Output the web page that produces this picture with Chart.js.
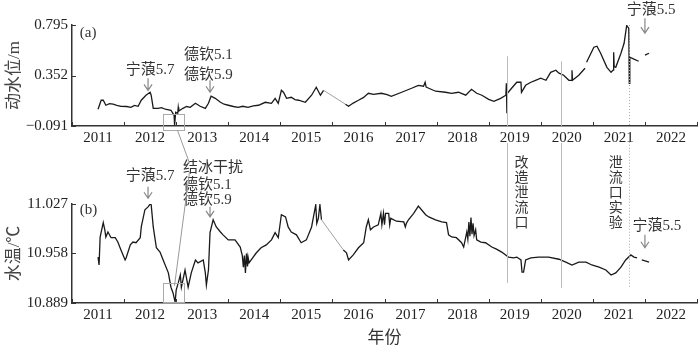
<!DOCTYPE html>
<html>
<head>
<meta charset="utf-8">
<script src="https://cdn.jsdelivr.net/npm/chart.js@4.4.0/dist/chart.umd.min.js"></script>
<style>
  body { margin: 0; background: #fff; }
  #wrap { position: relative; width: 700px; height: 349px; }
  canvas { position: absolute; left: 0; }
</style>
</head>
<body>
<div id="wrap">
  <canvas id="top" width="700" height="145" style="top:0"></canvas>
  <canvas id="bot" width="700" height="204" style="top:145px"></canvas>
  <canvas id="notes" width="700" height="349" style="top:0"></canvas>
</div>
<script>
// tick values
var yearTicks = [2011, 2012, 2013, 2014, 2015, 2016, 2017, 2018, 2019, 2020, 2021, 2022, 2023];
var levelTicks = [-0.091, 0.352, 0.795];
var tempTicks = [10.889, 10.958, 11.027];

// (a) 动水位/m (null = gap)
var levelYears = [2011.50, 2011.56, 2011.60, 2011.65, 2011.72, 2011.79, 2011.86, 2011.94, 2012.05, 2012.13,
  2012.20, 2012.27, 2012.33, 2012.42, 2012.50, 2012.52, 2012.56, 2012.65, 2012.72, 2012.79,
  2012.90, 2012.96, 2012.97, 2012.99, 2013.03, 2013.04, 2013.05, 2013.13, 2013.20, 2013.27,
  2013.37, 2013.46, 2013.56, 2013.62, 2013.67, 2013.75, 2013.85, 2013.92, 2014.00, 2014.10,
  2014.19, 2014.28, 2014.38, 2014.48, 2014.58, 2014.71, 2014.83, 2014.90, 2014.96, 2015.02,
  2015.06, 2015.12, 2015.21, 2015.28, 2015.35, 2015.48, 2015.60, 2015.69, 2015.77, 2015.83,
  2016.25, 2016.31, 2016.40, 2016.50, 2016.60, 2016.69, 2016.79, 2016.94, 2017.05, 2017.13,
  2017.33, 2017.52, 2017.65, 2017.75, 2017.78, 2017.80, 2017.85, 2017.98, 2018.17, 2018.29,
  2018.42, 2018.56, 2018.67, 2018.77, 2018.87, 2019.00, 2019.10, 2019.23, 2019.33, 2019.34,
  2019.35, 2019.36, 2019.44, 2019.54, 2019.62, 2019.63, 2019.71, 2019.81, 2019.90, 2020.00,
  2020.10, 2020.19, 2020.29, 2020.35, 2020.44, 2020.54, 2020.59, 2020.60, 2020.61, 2020.73,
  2020.85, 2020.86, 2020.88, 2021.02, 2021.08, 2021.15, 2021.27, 2021.35, 2021.39, 2021.40,
  2021.41, 2021.44, 2021.54, 2021.60, 2021.65, 2021.69, 2021.70, 2021.71, 2021.79, 2021.88,
  2021.94, 2022.00, 2022.08];
var levelVals = [0.056, 0.135, 0.135, 0.091, 0.105, 0.100, 0.090, 0.082, 0.080, 0.073,
  0.090, 0.082, 0.135, 0.179, 0.205, 0.179, 0.064, 0.064, 0.070, 0.056,
  0.047, 0.003, -0.085, 0.029, 0.020, 0.073, 0.040, 0.064, 0.080, 0.073,
  0.108, 0.082, 0.064, 0.108, 0.170, 0.152, 0.117, 0.100, 0.091, 0.080,
  0.073, 0.082, 0.073, 0.085, 0.091, 0.117, 0.108, 0.152, 0.108, 0.222,
  0.205, 0.152, 0.161, 0.140, 0.135, 0.117, 0.179, 0.249, 0.179, 0.222,
  0.100, 0.082, 0.110, 0.135, 0.160, 0.196, 0.187, 0.196, 0.185, 0.170,
  0.205, 0.240, 0.266, 0.258, 0.293, 0.250, 0.240, 0.214, 0.205, 0.196,
  0.205, 0.179, 0.231, 0.196, 0.179, 0.143, 0.126, 0.152, 0.179, 0.284,
  0.020, 0.196, 0.240, 0.293, 0.293, 0.205, 0.266, 0.293, 0.310, 0.328,
  0.310, 0.380, 0.398, 0.372, 0.354, 0.310, 0.310, 0.398, 0.310, 0.354,
  0.416, null, 0.468, 0.600, 0.609, 0.547, 0.424, 0.380, 0.400, 0.556,
  0.430, 0.424, 0.547, 0.635, 0.790, 0.767, 0.284, 0.512, 0.495, 0.477,
  null, 0.530, 0.547];

// (b) 水温/℃
var tempYears = [2011.50, 2011.52, 2011.54, 2011.60, 2011.63, 2011.65, 2011.69, 2011.75, 2011.83, 2011.88,
  2011.94, 2012.02, 2012.04, 2012.12, 2012.17, 2012.23, 2012.31, 2012.33, 2012.40, 2012.46,
  2012.50, 2012.52, 2012.56, 2012.62, 2012.69, 2012.75, 2012.85, 2012.90, 2012.94, 2012.98,
  2013.00, 2013.04, 2013.08, 2013.10, 2013.17, 2013.23, 2013.29, 2013.37, 2013.42, 2013.52,
  2013.56, 2013.58, 2013.62, 2013.65, 2013.71, 2013.77, 2013.85, 2013.90, 2014.00, 2014.13,
  2014.23, 2014.27, 2014.29, 2014.31, 2014.33, 2014.35, 2014.37, 2014.38, 2014.40, 2014.44,
  2014.54, 2014.63, 2014.73, 2014.83, 2014.90, 2014.96, 2015.02, 2015.10, 2015.15, 2015.21,
  2015.31, 2015.40, 2015.50, 2015.60, 2015.68, 2015.70, 2015.73, 2015.76, 2015.79, 2016.21,
  2016.27, 2016.31, 2016.40, 2016.50, 2016.60, 2016.65, 2016.69, 2016.73, 2016.79, 2016.88,
  2016.93, 2016.95, 2016.98, 2017.00, 2017.02, 2017.08, 2017.10, 2017.12, 2017.23, 2017.37,
  2017.40, 2017.42, 2017.46, 2017.56, 2017.65, 2017.71, 2017.79, 2017.85, 2017.98, 2018.10,
  2018.19, 2018.23, 2018.29, 2018.38, 2018.48, 2018.52, 2018.58, 2018.60, 2018.62, 2018.64,
  2018.66, 2018.68, 2018.70, 2018.72, 2018.75, 2018.77, 2018.85, 2018.94, 2019.06, 2019.15,
  2019.25, 2019.38, 2019.48, 2019.54, 2019.62, 2019.64, 2019.67, 2019.71, 2019.81, 2019.96,
  2020.15, 2020.35, 2020.48, 2020.60, 2020.73, 2020.87, 2020.98, 2021.12, 2021.25, 2021.35,
  2021.44, 2021.54, 2021.63, 2021.73, 2021.79, 2021.85, 2021.90, 2021.94, 2022.08];
var tempVals = [10.953, 10.942, 10.981, 11.001, 10.991, 10.981, 10.988, 10.980, 10.980, 10.974,
  10.963, 10.949, 10.952, 10.970, 10.974, 10.973, 10.980, 10.995, 11.019, 11.023,
  11.027, 11.026, 10.995, 10.966, 10.960, 10.949, 10.931, 10.911, 10.903, 10.890,
  10.907, 10.917, 10.928, 10.911, 10.935, 10.911, 10.931, 10.949, 10.945, 10.949,
  10.931, 10.914, 10.935, 10.987, 11.005, 10.995, 10.988, 10.984, 10.977, 10.977,
  10.967, 10.955, 10.939, 10.955, 10.931, 10.958, 10.940, 10.953, 10.945, 10.949,
  10.959, 10.966, 10.970, 10.977, 10.987, 10.980, 11.012, 11.009, 10.995, 10.988,
  10.984, 10.973, 10.977, 10.995, 11.026, 11.000, 11.007, 11.026, 11.005, 10.963,
  10.959, 10.949, 10.956, 10.966, 10.973, 10.995, 11.005, 10.991, 10.995, 10.998,
  11.014, 10.998, 11.014, 10.998, 11.014, 11.014, 10.998, 11.007, 11.003, 11.002,
  10.995, 11.000, 11.005, 11.014, 11.024, 11.019, 11.012, 11.009, 11.005, 11.002,
  11.001, 10.984, 10.981, 10.980, 10.973, 10.967, 10.988, 10.978, 11.002, 10.982,
  11.008, 10.985, 11.000, 10.983, 10.991, 10.977, 10.974, 10.973, 10.967, 10.964,
  10.960, 10.953, 10.952, 10.953, 10.949, 10.932, 10.932, 10.949, 10.952, 10.953,
  10.953, 10.950, 10.946, 10.942, 10.946, 10.946, 10.942, 10.939, 10.935, 10.928,
  10.931, 10.939, 10.949, 10.956, 10.953, 10.952, null, 10.949, 10.946];

var serif = "'Liberation Serif', 'Noto Sans CJK SC', serif";

function points(xs, ys) {
  return xs.map(function (x, i) { return { x: x, y: ys[i] }; });
}

function fmt(v) {
  return v.toFixed(3).replace("-", "\u2212");
}

// ticks pointing into the plot
var inwardTicks = {
  id: "inwardTicks",
  afterDraw: function (chart) {
    var a = chart.chartArea, c = chart.ctx;
    var sx = chart.scales.x, sy = chart.scales.y;
    c.save();
    c.strokeStyle = "#333";
    c.lineWidth = 1;
    sx.ticks.forEach(function (t) {
      var px = Math.round(sx.getPixelForValue(t.value)) + 0.5;
      c.beginPath(); c.moveTo(px, a.bottom); c.lineTo(px, a.bottom - 4); c.stroke();
    });
    sy.ticks.forEach(function (t) {
      var py = Math.round(sy.getPixelForValue(t.value)) + 0.5;
      c.beginPath(); c.moveTo(a.left, py); c.lineTo(a.left + 4, py); c.stroke();
    });
    c.restore();
  }
};

function makeChart(id, xs, ys, yTicks, yTitle, xTitle, padTop, axisH) {
  var longGap = function (ctx) { return ctx.p1.parsed.x - ctx.p0.parsed.x > 0.2; };
  return new Chart(document.getElementById(id), {
    type: "line",
    data: {
      datasets: [{
        data: points(xs, ys),
        borderColor: "#1a1a1a",
        borderWidth: 1.3,
        pointRadius: 0,
        tension: 0,
        spanGaps: false,
        segment: {
          borderColor: function (ctx) { return longGap(ctx) ? "#888" : undefined; },
          borderWidth: function (ctx) { return longGap(ctx) ? 0.8 : undefined; }
        }
      }]
    },
    options: {
      responsive: false,
      animation: false,
      layout: { padding: { top: padTop, right: 2, left: 0, bottom: 0 } },
      plugins: { legend: { display: false }, tooltip: { enabled: false } },
      scales: {
        x: {
          type: "linear",
          min: 2011,
          max: 2023,
          afterBuildTicks: function (s) { s.ticks = yearTicks.map(function (v) { return { value: v }; }); },
          afterFit: function (s) { s.height = axisH; },
          grid: { display: false, drawTicks: false },
          border: { display: true, color: "#333", width: 1.5 },
          ticks: {
            callback: function (v) { return v < 2023 ? String(v) : ""; },
            labelOffset: 26,
            padding: 3,
            maxRotation: 0,
            autoSkip: false,
            color: "#222",
            font: { family: serif, size: 15 }
          },
          title: {
            display: !!xTitle,
            text: xTitle || "",
            color: "#333",
            font: { family: serif, size: 17 },
            padding: { top: 2, bottom: 0 }
          }
        },
        y: {
          min: yTicks[0],
          max: yTicks[yTicks.length - 1],
          afterBuildTicks: function (s) { s.ticks = yTicks.map(function (v) { return { value: v }; }); },
          afterFit: function (s) { s.width = 72; },
          grid: { display: false, drawTicks: false },
          border: { display: true, color: "#333", width: 1.5 },
          ticks: {
            callback: function (v) { return fmt(v); },
            padding: 4,
            color: "#222",
            font: { family: serif, size: 15 }
          },
          title: {
            display: true,
            text: yTitle,
            color: "#444",
            font: { family: serif, size: 17 },
            padding: { top: 4, bottom: 0 }
          }
        }
      }
    },
    plugins: [inwardTicks]
  });
}

var topChart = makeChart("top", levelYears, levelVals, levelTicks, "动水位/m", null, 25, 19);
var botChart = makeChart("bot", tempYears, tempVals, tempTicks, "水温/℃", "年份", 59, 46);

// annotations, anchored in data units of either panel
var nc = document.getElementById("notes").getContext("2d");

function P(chart, x, y) {
  return [chart.scales.x.getPixelForValue(x), chart.scales.y.getPixelForValue(y) + chart.canvas.offsetTop];
}

function text(chart, x, y, s, align) {
  var p = P(chart, x, y);
  nc.fillStyle = "#333";
  nc.font = "15px " + serif;
  nc.textAlign = align || "center";
  nc.textBaseline = "middle";
  nc.fillText(s, p[0], p[1]);
}

function vtext(chart, x, y, s) {
  var p = P(chart, x, y);
  for (var i = 0; i < s.length; i++) {
    nc.fillStyle = "#333";
    nc.font = "14px " + serif;
    nc.textAlign = "center";
    nc.textBaseline = "middle";
    nc.fillText(s[i], p[0], p[1] + i * 15);
  }
}

function arrow(chart, x, y1, y2) {
  var a = P(chart, x, y1), b = P(chart, x, y2);
  nc.strokeStyle = "#888";
  nc.lineWidth = 1.2;
  nc.beginPath();
  nc.moveTo(a[0], a[1]); nc.lineTo(b[0], b[1]);
  nc.moveTo(b[0] - 4, b[1] - 6); nc.lineTo(b[0], b[1]); nc.lineTo(b[0] + 4, b[1] - 6);
  nc.stroke();
}

function line(c1, x1, y1, c2, x2, y2, color, dash) {
  var a = P(c1, x1, y1), b = P(c2, x2, y2);
  nc.strokeStyle = color;
  nc.lineWidth = 1;
  nc.setLineDash(dash || []);
  nc.beginPath();
  nc.moveTo(Math.round(a[0]) + 0.5, a[1]); nc.lineTo(Math.round(b[0]) + 0.5, b[1]);
  nc.stroke();
  nc.setLineDash([]);
}

function box(chart, x1, x2, y1, y2) {
  var a = P(chart, x1, y1), b = P(chart, x2, y2);
  nc.strokeStyle = "#aaa";
  nc.lineWidth = 1;
  nc.strokeRect(Math.round(a[0]) + 0.5, Math.round(a[1]) + 0.5, Math.round(b[0] - a[0]), Math.round(b[1] - a[1]));
}

// vertical marker lines (改造泄流口, 泄流口实验)
line(topChart, 2019.35, 0.521, topChart, 2019.35, -0.091, "#bbb");
line(botChart, 2019.35, 11.112, botChart, 2019.35, 10.917, "#bbb");
line(topChart, 2020.38, 0.477, topChart, 2020.38, -0.091, "#bbb");
line(botChart, 2020.38, 11.112, botChart, 2020.38, 10.910, "#bbb");
line(topChart, 2021.69, 0.795, topChart, 2021.69, -0.091, "#aaa", [1, 2]);
line(botChart, 2021.69, 11.118, botChart, 2021.69, 10.911, "#aaa", [1, 2]);

// panel (a)
text(topChart, 2011.15, 0.723, "(a)", "left");
text(topChart, 2012.5, 0.398, "宁蒗5.7");
arrow(topChart, 2012.46, 0.328, 0.222);
text(topChart, 2013.62, 0.530, "德钦5.1");
text(topChart, 2013.62, 0.354, "德钦5.9");
arrow(topChart, 2013.65, 0.310, 0.205);
text(topChart, 2022.12, 0.925, "宁蒗5.5");
arrow(topChart, 2022.0, 0.855, 0.723);
box(topChart, 2012.75, 2013.15, 0.012, -0.129);

// panel (b)
text(botChart, 2011.15, 11.019, "(b)", "left");
text(botChart, 2012.5, 11.066, "宁蒗5.7");
arrow(botChart, 2012.46, 11.051, 11.035);
text(botChart, 2013.13, 11.077, "结冰干扰", "left");
text(botChart, 2013.13, 11.053, "德钦5.1", "left");
text(botChart, 2013.13, 11.033, "德钦5.9", "left");
arrow(botChart, 2013.65, 11.023, 11.009);
box(botChart, 2012.75, 2013.15, 10.917, 10.890);
vtext(botChart, 2019.63, 11.084, "改造泄流口");
vtext(botChart, 2021.44, 11.084, "泄流口实验");
text(botChart, 2022.23, 10.996, "宁蒗5.5");
arrow(botChart, 2022.0, 10.984, 10.966);

// 结冰干扰 leader lines to both boxes
line(topChart, 2013.02, -0.129, botChart, 2013.25, 11.084, "#999");
line(botChart, 2013.25, 11.072, botChart, 2012.96, 10.913, "#999");
</script>
</body>
</html>
